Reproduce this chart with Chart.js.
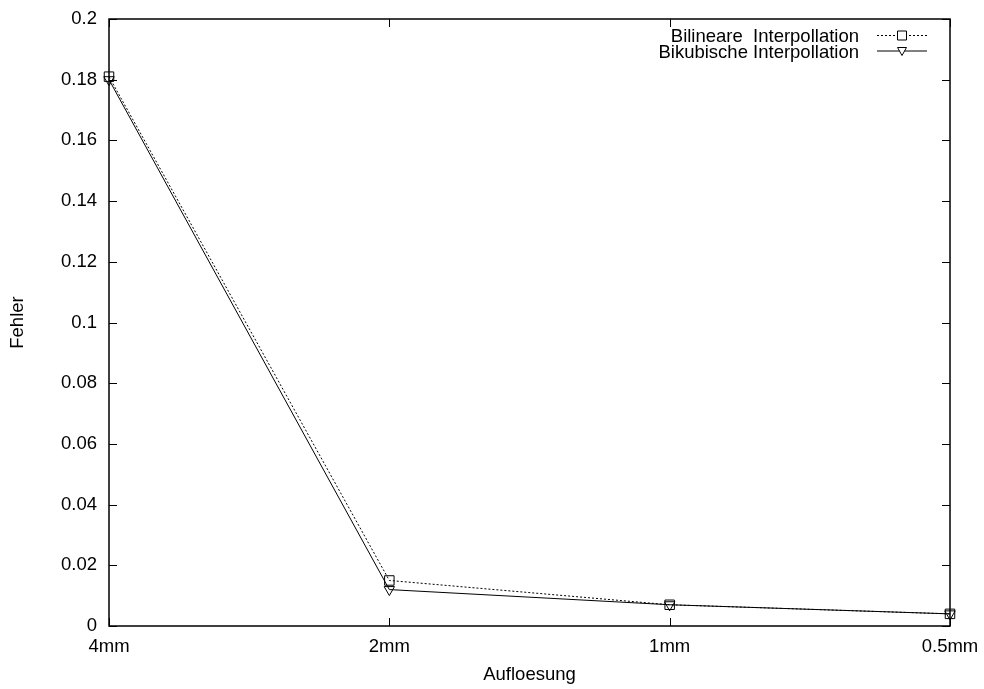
<!DOCTYPE html>
<html>
<head>
<meta charset="utf-8">
<script src="https://cdn.jsdelivr.net/npm/chart.js@4.4.0/dist/chart.umd.min.js"></script>
<style>
  html, body { margin: 0; padding: 0; background: #fff; }
</style>
</head>
<body>
<canvas id="errChart" width="984" height="689"></canvas>
<script>
// interpolation error per grid resolution
const resolutions = ['4mm', '2mm', '1mm', '0.5mm'];
const bilinearErr = [0.181, 0.015, 0.007, 0.004];
const bicubicErr  = [0.180, 0.012, 0.007, 0.004];
const seriesNames = ['Bilineare  Interpollation', 'Bikubische Interpollation'];

const FONT = '"Liberation Sans", Arial, sans-serif';
Chart.defaults.font.family = FONT;
Chart.defaults.font.size = 18.5;
Chart.defaults.color = '#000';

// gnuplot-like frame with inward ticks on all four sides
const framePlugin = {
  id: 'frame',
  beforeDatasetsDraw(chart) {
    const { ctx, chartArea: a, scales: { x, y } } = chart;
    const tl = 8;
    ctx.save();
    ctx.strokeStyle = '#000';
    ctx.lineWidth = 1.5;
    ctx.strokeRect(a.left, a.top, a.right - a.left, a.bottom - a.top);
    ctx.lineWidth = 1;
    ctx.beginPath();
    x.ticks.forEach((t, i) => {
      const px = Math.round(x.getPixelForTick(i)) + 0.5;
      ctx.moveTo(px, a.bottom); ctx.lineTo(px, a.bottom - tl);
      ctx.moveTo(px, a.top);    ctx.lineTo(px, a.top + tl);
    });
    y.ticks.forEach(t => {
      const py = Math.round(y.getPixelForValue(t.value)) + 0.5;
      ctx.moveTo(a.left, py);  ctx.lineTo(a.left + tl, py);
      ctx.moveTo(a.right, py); ctx.lineTo(a.right - tl, py);
    });
    ctx.stroke();
    ctx.restore();
  }
};

// key in the top right corner: label, then line sample with marker
const keyPlugin = {
  id: 'key',
  afterDraw(chart) {
    const { ctx } = chart;
    const rows = [42, 57.5];
    ctx.save();
    ctx.font = '18.5px ' + FONT;
    ctx.fillStyle = '#000';
    ctx.textAlign = 'right';
    ctx.textBaseline = 'alphabetic';
    chart.data.datasets.forEach((ds, i) => {
      const base = rows[i];
      const ly = base - 6.5;
      ctx.fillText(ds.label, 859, base);
      ctx.strokeStyle = ds.borderColor;
      ctx.lineWidth = ds.borderWidth;
      ctx.setLineDash(ds.borderDash || []);
      ctx.beginPath();
      ctx.moveTo(877, ly); ctx.lineTo(927, ly);
      ctx.stroke();
      ctx.setLineDash([]);
      ctx.beginPath();
      if (ds.pointStyle === 'rect') {
        ctx.rect(897.5, ly - 4.5, 9, 9);
      } else {
        ctx.moveTo(897.5, ly - 3.5); ctx.lineTo(906.5, ly - 3.5); ctx.lineTo(902, ly + 4.5); ctx.closePath();
      }
      ctx.fillStyle = '#fff';
      ctx.fill();
      ctx.stroke();
      ctx.fillStyle = '#000';
    });
    ctx.restore();
  }
};

new Chart(document.getElementById('errChart'), {
  type: 'line',
  data: {
    labels: resolutions,
    datasets: [
      {
        label: seriesNames[0],
        data: bilinearErr,
        borderColor: '#000',
        borderWidth: 1,
        borderDash: [2, 2],
        pointStyle: 'rect',
        pointRadius: 6.7,
        pointBorderWidth: 1,
        pointBorderColor: '#000',
        pointBackgroundColor: 'rgba(0,0,0,0)',
        tension: 0,
        clip: false
      },
      {
        label: seriesNames[1],
        data: bicubicErr,
        borderColor: '#000',
        borderWidth: 1,
        pointStyle: 'triangle',
        rotation: 180,
        pointRadius: 6,
        pointBorderWidth: 1,
        pointBorderColor: '#000',
        pointBackgroundColor: 'rgba(0,0,0,0)',
        tension: 0,
        clip: false
      }
    ]
  },
  options: {
    responsive: false,
    animation: false,
    layout: { padding: { top: 19, right: 34, left: 0, bottom: 0 } },
    plugins: {
      legend: { display: false },
      tooltip: { enabled: false }
    },
    scales: {
      x: {
        type: 'category',
        offset: false,
        grid: { display: false, drawTicks: false },
        border: { display: false },
        ticks: { padding: 10, maxRotation: 0, autoSkip: false },
        title: { display: true, text: 'Aufloesung', padding: { top: 0, bottom: 3 } },
        afterFit: s => {
          s.height = 63;
          s.paddingLeft = 0;
          s.paddingRight = 0;
        }
      },
      y: {
        min: 0,
        max: 0.2,
        grid: { display: false, drawTicks: false },
        border: { display: false },
        ticks: { stepSize: 0.02, padding: 12, callback: v => String(+v.toFixed(2)) },
        title: { display: true, text: 'Fehler', padding: { top: 7, bottom: 0 } },
        afterFit: s => {
          s.width = 109;
          s.paddingTop = 0;
          s.paddingBottom = 0;
        }
      }
    }
  },
  plugins: [framePlugin, keyPlugin]
});
</script>
</body>
</html>
